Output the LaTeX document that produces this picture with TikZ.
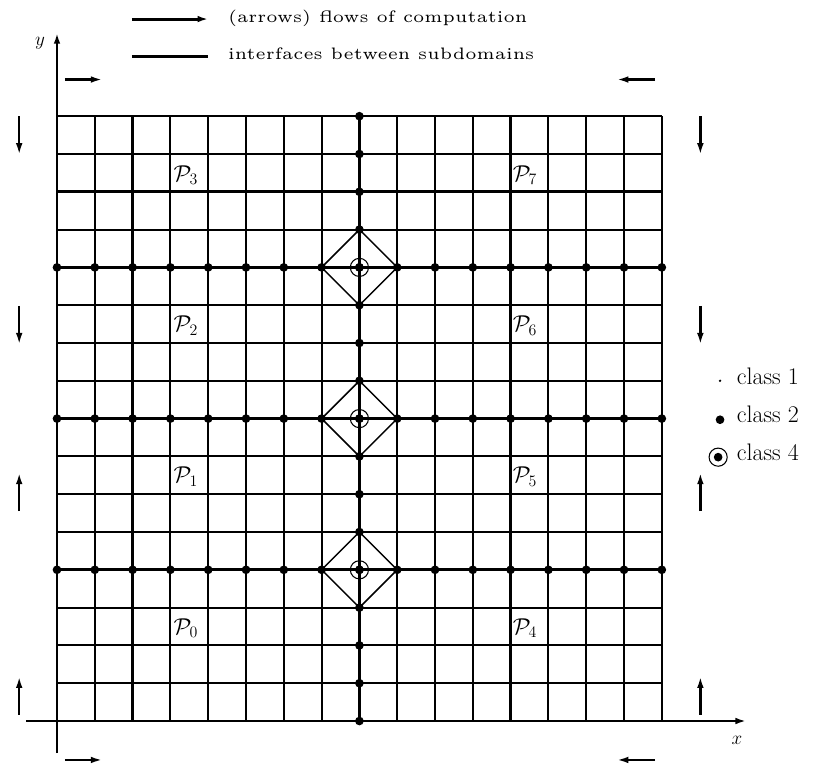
\documentclass[tikz,border=0pt]{standalone}
\usepackage{fontspec}
\usetikzlibrary{arrows.meta}
\newfontfamily\legfont{lmroman5-regular.otf}
\begin{document}
\begin{tikzpicture}[x=1cm,y=1cm,
  gridline/.style={line width=1.45pt},
  iface/.style={line width=2.2pt},
  flow/.style={line width=1.8pt,-{Latex[length=9pt,width=5pt]}},
  axis/.style={line width=2pt,-{Latex[length=8pt,width=5pt]}},
  dia/.style={line width=1.1pt},
  ring/.style={line width=0.8pt},
  plabel/.style={anchor=base west,inner sep=0pt,font=\fontsize{18}{20}\selectfont},
  leg/.style={anchor=base west,inner sep=0pt,font=\legfont\fontsize{12.5}{14}\selectfont},
  cls/.style={anchor=base west,inner sep=0pt,font=\fontsize{18}{20}\selectfont},
  axlab/.style={inner sep=0pt,font=\fontsize{14}{16}\selectfont}
]
\useasboundingbox (-1.508,-1.217) rectangle (20.026,19.074);
% grid
\foreach \i in {1,...,16} \draw[gridline] (\i,0) -- (\i,16);
\foreach \j in {1,...,16} \draw[gridline] (0,\j) -- (16,\j);
% interfaces
\foreach \i in {2,8,12} \draw[iface] (\i,0) -- (\i,16);
\foreach \j in {4,8,10,12,14} \draw[iface] (0,\j) -- (16,\j);
% axes
\coordinate (xs) at (-0.82,0); \coordinate (xe) at (18.23,0);
\coordinate (ys) at (0,-0.85); \coordinate (ye) at (0,18.2);
\draw[axis] (xs) -- (xe);
\draw[axis] (ys) -- (ye);
\node[axlab] (xl) at (17.99,-0.5) {$x$};
\node[axlab] (yl) at (-0.45,17.92) {$y$};
% diamonds and class-4 points
\foreach \c in {4,8,12} {
  \draw[dia] (7,\c) -- (8,\c+1) -- (9,\c) -- (8,\c-1) -- cycle;
  \draw[ring] (8,\c) circle (0.24);
}
% class-2 dots
\foreach \c in {4,8,12} \foreach \i in {0,...,16} \fill (\i,\c) circle (0.115);
\foreach \j in {0,...,16} \fill (8,\j) circle (0.115);
% subdomain labels
\node[plabel] (p3) at (3.08,14.28) {$\mathcal{P}_3$};
\node[plabel] (p2) at (3.08,10.30) {$\mathcal{P}_2$};
\node[plabel] (p1) at (3.08,6.30) {$\mathcal{P}_1$};
\node[plabel] (p0) at (3.08,2.30) {$\mathcal{P}_0$};
\node[plabel] (p7) at (12.05,14.28) {$\mathcal{P}_7$};
\node[plabel] (p6) at (12.05,10.30) {$\mathcal{P}_6$};
\node[plabel] (p5) at (12.05,6.30) {$\mathcal{P}_5$};
\node[plabel] (p4) at (12.05,2.30) {$\mathcal{P}_4$};
% flow arrows
\draw[flow] (0.21,16.97) -- (1.21,16.97);
\draw[flow] (15.82,16.97) -- (14.80,16.97);
\draw[flow] (0.21,-1.03) -- (1.21,-1.03);
\draw[flow] (15.82,-1.03) -- (14.80,-1.03);
\draw[flow] (-1.0,16.0) -- (-1.0,14.97);
\draw[flow] (-1.0,10.98) -- (-1.0,9.95);
\draw[flow] (-1.0,5.55) -- (-1.0,6.58);
\draw[flow] (-1.0,0.16) -- (-1.0,1.19);
\draw[flow] (17.02,16.0) -- (17.02,14.97);
\draw[flow] (17.02,10.98) -- (17.02,9.95);
\draw[flow] (17.02,5.55) -- (17.02,6.58);
\draw[flow] (17.02,0.16) -- (17.02,1.19);
% top legend
\draw[iface,-{Latex[length=8pt,width=5pt]}] (1.98,18.57) -- (4.0,18.57);
\node[leg] (l1) at (4.52,18.49) {(arrows) flows of computation};
\draw[iface] (1.98,17.57) -- (4.0,17.57);
\node[leg] (l2) at (4.52,17.49) {interfaces between subdomains};
% class legend
\fill (17.54,9.0) circle (0.035);
\node[cls] (c1) at (17.98,8.89) {class 1};
\fill (17.54,7.97) circle (0.115);
\node[cls] (c2) at (17.98,7.89) {class 2};
\fill (17.49,6.98) circle (0.115);
\draw[ring] (17.49,6.98) circle (0.24);
\node[cls] (c4) at (17.98,6.89) {class 4};
\end{tikzpicture}
\end{document}
